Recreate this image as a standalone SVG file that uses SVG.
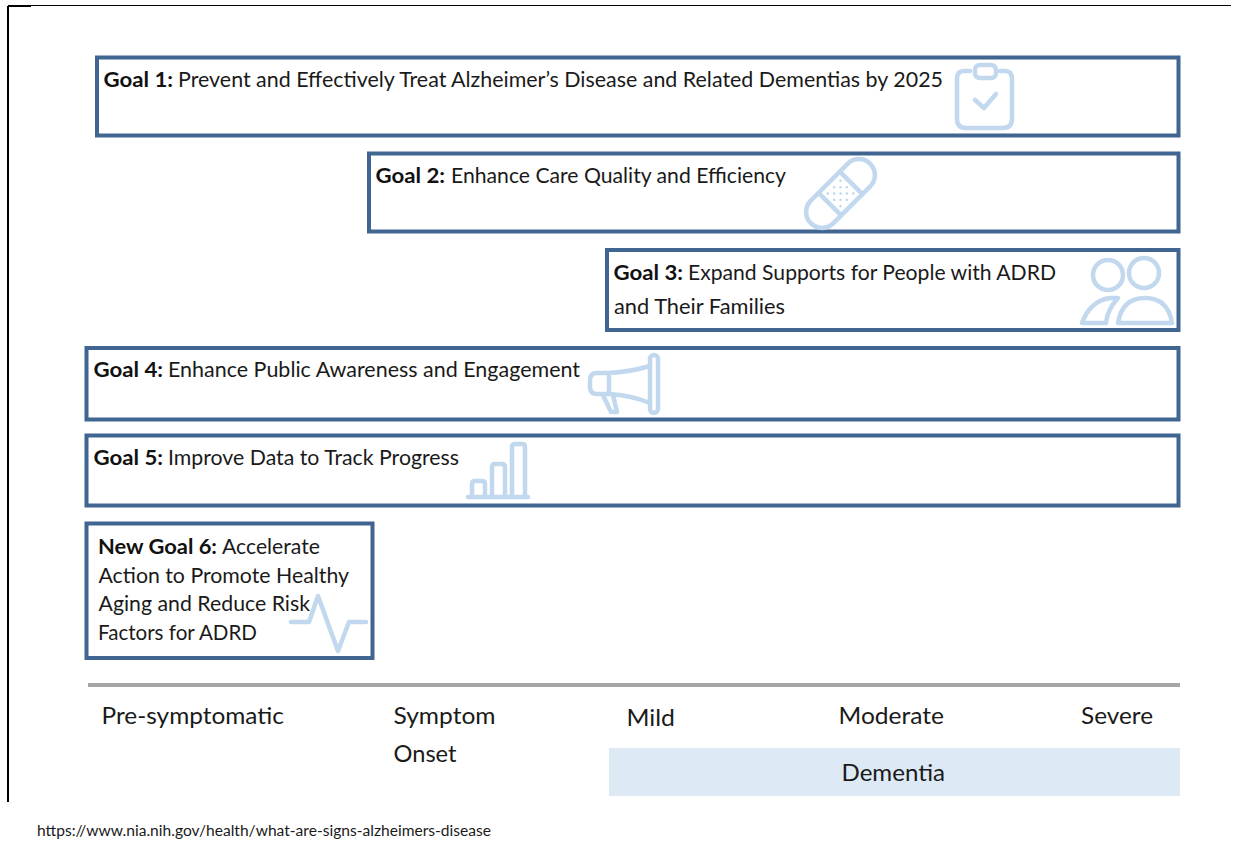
<svg xmlns="http://www.w3.org/2000/svg" width="1253" height="852" viewBox="0 0 1253 852">
<style>
text{font-family:Lato,"Noto Sans","Liberation Sans",sans-serif;fill:#1a1a1a}
.t{font-size:20.5px}
.b{font-weight:700;fill:#111}
.s{font-size:24px}
.box{fill:#fff;stroke:#3f6590;stroke-width:4}
.ic{fill:none;stroke:#c1d8ee;stroke-width:4.500;stroke-linecap:round;stroke-linejoin:round}
.dot{fill:#c1d8ee}
</style>
<rect width="1253" height="852" fill="#fff"/>
<g id="frame" fill="none" stroke="#000">
<path d="M8 5.500H1231" stroke-width="1"/>
<path d="M8 6H31M8 6V802" stroke-width="2"/>
</g>
<g id="goal1">
<rect class="box" x="97" y="57.500" width="1081.500" height="78"/>
<text class="t" y="87"><tspan class="b" x="103.500" textLength="69.500" lengthAdjust="spacingAndGlyphs">Goal 1:</tspan><tspan x="178" textLength="765" lengthAdjust="spacingAndGlyphs">Prevent and Effectively Treat Alzheimer’s Disease and Related Dementias by 2025</tspan></text>
<g class="ic"><path d="M970 71H964Q957 71 957 79V119Q957 128 966 128H1003Q1012 128 1012 119V79Q1012 71 1005 71H1000"/><rect x="975" y="65" width="21" height="13" rx="5"/><path d="M975 100L984 108L996 94"/></g>
</g>
<g id="goal2">
<rect class="box" x="369" y="153.500" width="809.500" height="78"/>
<text class="t" y="183"><tspan class="b" x="375.500" textLength="69.500" lengthAdjust="spacingAndGlyphs">Goal 2:</tspan><tspan x="451" textLength="335" lengthAdjust="spacingAndGlyphs">Enhance Care Quality and Efficiency</tspan></text>
<g transform="translate(840.500 193.500) rotate(-45)">
<g class="ic"><rect x="-42" y="-16" width="84" height="32" rx="16"/><path d="M-15 -16V16M15 -16V16"/></g>
<g class="dot"><circle cx="-9" cy="-9" r="1.300"/><circle cx="0" cy="-9" r="1.300"/><circle cx="9" cy="-9" r="1.300"/><circle cx="-9" cy="0" r="1.300"/><circle cx="0" cy="0" r="1.300"/><circle cx="9" cy="0" r="1.300"/><circle cx="-9" cy="9" r="1.300"/><circle cx="0" cy="9" r="1.300"/><circle cx="9" cy="9" r="1.300"/><circle cx="-4.500" cy="-4.500" r="1.300"/><circle cx="4.500" cy="-4.500" r="1.300"/><circle cx="-4.500" cy="4.500" r="1.300"/><circle cx="4.500" cy="4.500" r="1.300"/></g>
</g>
</g>
<g id="goal3">
<rect class="box" x="607" y="250" width="571.500" height="80"/>
<text class="t" y="280"><tspan class="b" x="613.500" textLength="69.500" lengthAdjust="spacingAndGlyphs">Goal 3:</tspan><tspan x="688" textLength="368" lengthAdjust="spacingAndGlyphs">Expand Supports for People with ADRD</tspan></text>
<text class="t" x="614" y="314" textLength="171" lengthAdjust="spacingAndGlyphs">and Their Families</text>
<g class="ic"><circle cx="1108" cy="275" r="15"/><circle cx="1144" cy="273" r="15"/><path d="M1118 298H1110Q1090 301 1082 323H1106Q1107 310 1118 298Z"/><path d="M1118 323Q1122 298 1145 298Q1168 298 1172 323Z"/></g>
</g>
<g id="goal4">
<rect class="box" x="86.500" y="348" width="1092" height="71.500"/>
<text class="t" y="377"><tspan class="b" x="93.500" textLength="69.500" lengthAdjust="spacingAndGlyphs">Goal 4:</tspan><tspan x="168" textLength="412" lengthAdjust="spacingAndGlyphs">Enhance Public Awareness and Engagement</tspan></text>
<g class="ic"><rect x="650" y="355" width="8" height="58" rx="4"/><path d="M650 366Q630 372 609 373H597Q590 373 590 380V387Q590 394 597 394H609Q630 395 650 403M609 373V394M603 395L611 412H617L613 395"/></g>
</g>
<g id="goal5">
<rect class="box" x="86.500" y="435.500" width="1092" height="70"/>
<text class="t" y="465"><tspan class="b" x="93.500" textLength="69.500" lengthAdjust="spacingAndGlyphs">Goal 5:</tspan><tspan x="168" textLength="291" lengthAdjust="spacingAndGlyphs">Improve Data to Track Progress</tspan></text>
<g class="ic"><path d="M468 497H528M472 497V484Q472 481 475 481H482Q485 481 485 484V497M492 497V467Q492 464 495 464H502Q505 464 505 467V497M512 497V447Q512 444 515 444H522Q525 444 525 447V497"/></g>
</g>
<g id="goal6">
<rect class="box" x="86.500" y="523.500" width="286" height="134.500"/>
<text class="t" y="554"><tspan class="b" x="98" textLength="119" lengthAdjust="spacingAndGlyphs">New Goal 6:</tspan><tspan x="222" textLength="98" lengthAdjust="spacingAndGlyphs">Accelerate</tspan></text>
<text class="t" x="98.500" y="583" textLength="250.500" lengthAdjust="spacingAndGlyphs">Action to Promote Healthy</text>
<text class="t" x="98.500" y="611" textLength="211.500" lengthAdjust="spacingAndGlyphs">Aging and Reduce Risk</text>
<text class="t" x="98" y="640" textLength="159" lengthAdjust="spacingAndGlyphs">Factors for ADRD</text>
<path class="ic" d="M291 622H309L318 596L338 651L349 622H366"/>
</g>
<g id="connectors"><path d="M88 685H1180" stroke="#a5a5a5" stroke-width="4" fill="none"/></g>
<g id="axis">
<text class="s" x="101.500" y="724" textLength="182.500" lengthAdjust="spacingAndGlyphs">Pre-symptomatic</text>
<text class="s" x="393.500" y="724" textLength="102" lengthAdjust="spacingAndGlyphs">Symptom</text>
<text class="s" x="393.500" y="762" textLength="63" lengthAdjust="spacingAndGlyphs">Onset</text>
<text class="s" x="626.500" y="726" textLength="48.500" lengthAdjust="spacingAndGlyphs">Mild</text>
<text class="s" x="838.500" y="724" textLength="105.500" lengthAdjust="spacingAndGlyphs">Moderate</text>
<text class="s" x="1081" y="724" textLength="72" lengthAdjust="spacingAndGlyphs">Severe</text>
</g>
<g id="dementia">
<rect x="609" y="748" width="571" height="48" fill="#dde9f5"/>
<text class="s" x="841.500" y="781" textLength="103.500" lengthAdjust="spacingAndGlyphs">Dementia</text>
</g>
<text id="source" x="37" y="836" font-size="14.500" textLength="454" lengthAdjust="spacingAndGlyphs">https://www.nia.nih.gov/health/what-are-signs-alzheimers-disease</text>
</svg>
